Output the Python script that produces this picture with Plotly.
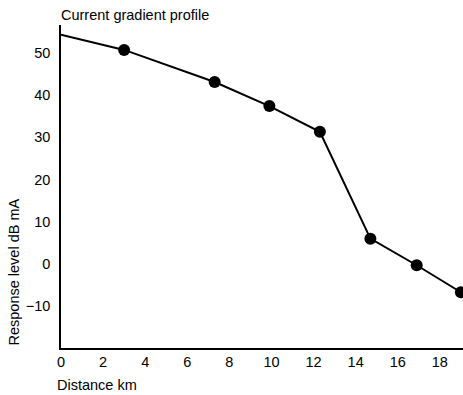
import plotly.graph_objects as go

distance_km = [0, 3.0, 7.3, 9.9, 12.3, 14.7, 16.9, 19.0]
response_db = [54.3, 50.7, 43.1, 37.4, 31.3, 6.0, -0.3, -6.7]

x_ticks = [0, 2, 4, 6, 8, 10, 12, 14, 16, 18]
y_ticks = [-10, 0, 10, 20, 30, 40, 50]

font = "Liberation Sans, Arial, Helvetica, sans-serif"

fig = go.Figure()

# line starts at 0 km, markers only on measured points
fig.add_trace(go.Scatter(
    x=distance_km, y=response_db,
    mode="lines",
    line=dict(color="black", width=2),
    hoverinfo="skip",
    cliponaxis=False,
))
fig.add_trace(go.Scatter(
    x=distance_km[1:], y=response_db[1:],
    mode="markers",
    marker=dict(color="black", size=12),
    cliponaxis=False,
))

fig.update_layout(
    width=463, height=395,
    margin=dict(l=61, r=0, t=25, b=47),
    plot_bgcolor="white",
    paper_bgcolor="white",
    showlegend=False,
    font=dict(family=font, size=14.5, color="black"),
    xaxis=dict(
        range=[0, 19.1],
        tickvals=x_ticks,
        showgrid=False, zeroline=False,
        showline=True, linecolor="black", linewidth=1.5,
        ticks="",
    ),
    yaxis=dict(
        range=[-19.9, 56.6],
        tickvals=y_ticks,
        showgrid=False, zeroline=False,
        showline=True, linecolor="black", linewidth=1.5,
        ticks="outside", ticklen=6, tickcolor="rgba(0,0,0,0)",
    ),
    annotations=[
        dict(text="Current gradient profile", xref="paper", yref="paper",
             x=0, y=1, xanchor="left", yanchor="bottom", yshift=0, xshift=-2,
             showarrow=False),
        dict(text="Distance km", xref="paper", yref="paper",
             x=0, y=0, xanchor="left", yanchor="top", yshift=-27, xshift=-6,
             showarrow=False),
        dict(text="Response level dB mA", xref="paper", yref="paper",
             x=0, y=0, xanchor="right", yanchor="bottom", xshift=-38, yshift=1,
             textangle=-90, showarrow=False),
    ],
)

fig.write_html("out.html", config={"displayModeBar": False},
               post_script="document.body.style.margin='0';")
